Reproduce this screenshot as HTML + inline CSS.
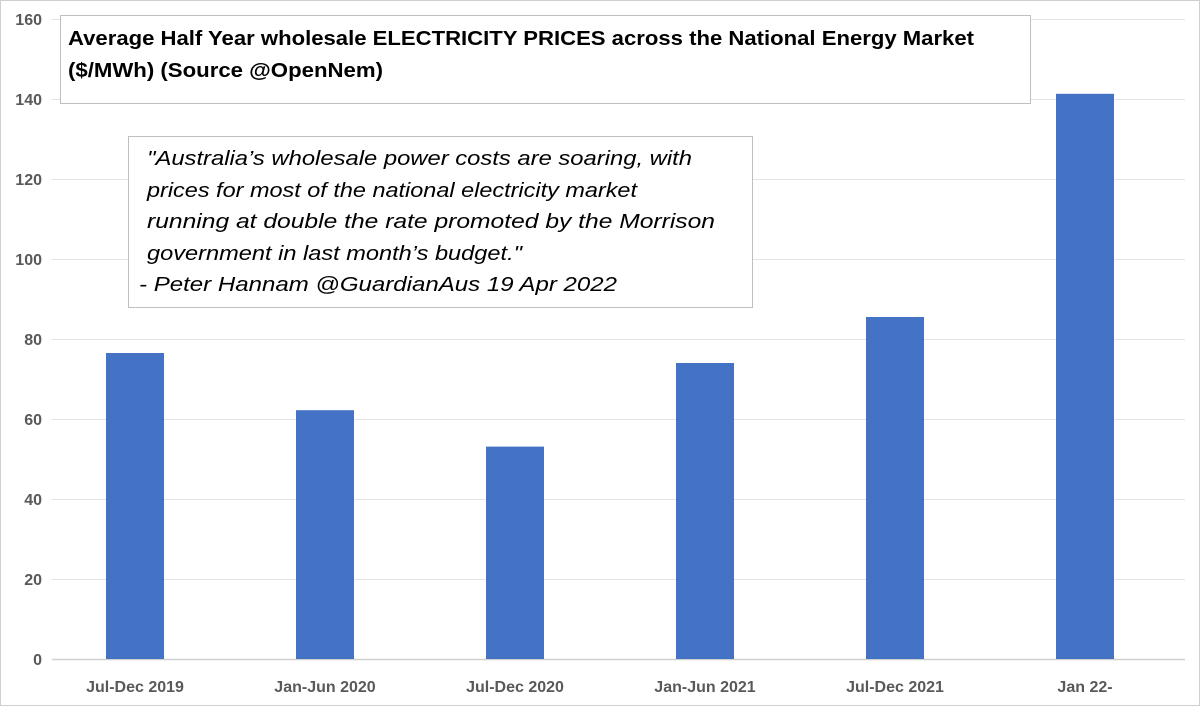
<!DOCTYPE html>
<html><head><meta charset="utf-8"><style>
html,body{margin:0;padding:0;background:#fff;}
svg{display:block;font-family:"Liberation Sans",sans-serif;}
</style></head><body>
<svg id="chart" width="1200" height="707" viewBox="0 0 1200 707">
<rect x="0.5" y="0.5" width="1199" height="705" fill="#fff" stroke="#d0d0d0"/>
<g id="grid"></g><g id="bars"></g><g id="xlabels"></g>
<g>
<rect x="60.5" y="15.5" width="970" height="88" fill="#fff" stroke="#bfbfbf"/>
<text x="68" y="45" font-size="20" font-weight="bold" fill="#000" textLength="906" lengthAdjust="spacingAndGlyphs">Average Half Year wholesale ELECTRICITY PRICES across the National Energy Market</text>
<text x="68" y="77" font-size="20" font-weight="bold" fill="#000" textLength="315" lengthAdjust="spacingAndGlyphs"> ($/MWh) (Source @OpenNem)</text>
</g>
<g font-style="italic" font-size="20" fill="#000">
<rect x="128.5" y="136.5" width="624" height="171" fill="#fff" stroke="#bfbfbf"/>
<text x="147" y="165" textLength="545" lengthAdjust="spacingAndGlyphs">"Australia’s wholesale power costs are soaring, with</text>
<text x="147" y="197" textLength="490" lengthAdjust="spacingAndGlyphs">prices for most of the national electricity market</text>
<text x="147" y="228" textLength="568" lengthAdjust="spacingAndGlyphs">running at double the rate promoted by the Morrison</text>
<text x="147" y="260" textLength="375" lengthAdjust="spacingAndGlyphs">government in last month’s budget."</text>
<text x="139" y="291" textLength="478" lengthAdjust="spacingAndGlyphs"> - Peter Hannam @GuardianAus 19 Apr 2022</text>
</g>
</svg>
<script>
const categories=["Jul-Dec 2019","Jan-Jun 2020","Jul-Dec 2020","Jan-Jun 2021","Jul-Dec 2021","Jan 22-"];
const prices=[76.5,62.2,53.1,74.0,85.5,141.3];
const yTicks=[0,20,40,60,80,100,120,140,160];
const NS="http://www.w3.org/2000/svg";
const y0=659,yPerUnit=4.0;
function yScale(v){return y0-v*yPerUnit;}
const step=190,firstCenter=135,barW=58;
function xScale(i){return firstCenter+i*step;}
const grid=document.getElementById('grid'),bars=document.getElementById('bars'),xl=document.getElementById('xlabels');
yTicks.forEach(t=>{
  const y=yScale(t);
  const l=document.createElementNS(NS,'line');
  l.setAttribute('x1',52);l.setAttribute('x2',1185);l.setAttribute('y1',y+0.5);l.setAttribute('y2',y+0.5);
  l.setAttribute('stroke',t===0?'#d0d0d0':'#e4e4e4');l.setAttribute('stroke-width',t===0?1.5:1);
  
  
  grid.appendChild(l);
  const tx=document.createElementNS(NS,'text');
  tx.setAttribute('x',42);tx.setAttribute('y',y+6);tx.setAttribute('text-anchor','end');
  tx.setAttribute('font-size','16');tx.setAttribute('font-weight','bold');tx.setAttribute('fill','#595959');
  tx.textContent=t;
  
  
  grid.appendChild(tx);
});
categories.forEach((c,i)=>{
  const cx=xScale(i),top=yScale(prices[i]);
  const r=document.createElementNS(NS,'rect');
  r.setAttribute('x',cx-barW/2);r.setAttribute('y',top);r.setAttribute('width',barW);r.setAttribute('height',y0-top);
  r.setAttribute('fill','#4472c4');
  
  
  bars.appendChild(r);
  const t=document.createElementNS(NS,'text');
  t.setAttribute('x',cx);t.setAttribute('y',692);t.setAttribute('text-anchor','middle');
  t.setAttribute('font-size','16');t.setAttribute('font-weight','bold');t.setAttribute('fill','#595959');
  t.textContent=c;
  
  
  xl.appendChild(t);
});
</script>
</body></html>
